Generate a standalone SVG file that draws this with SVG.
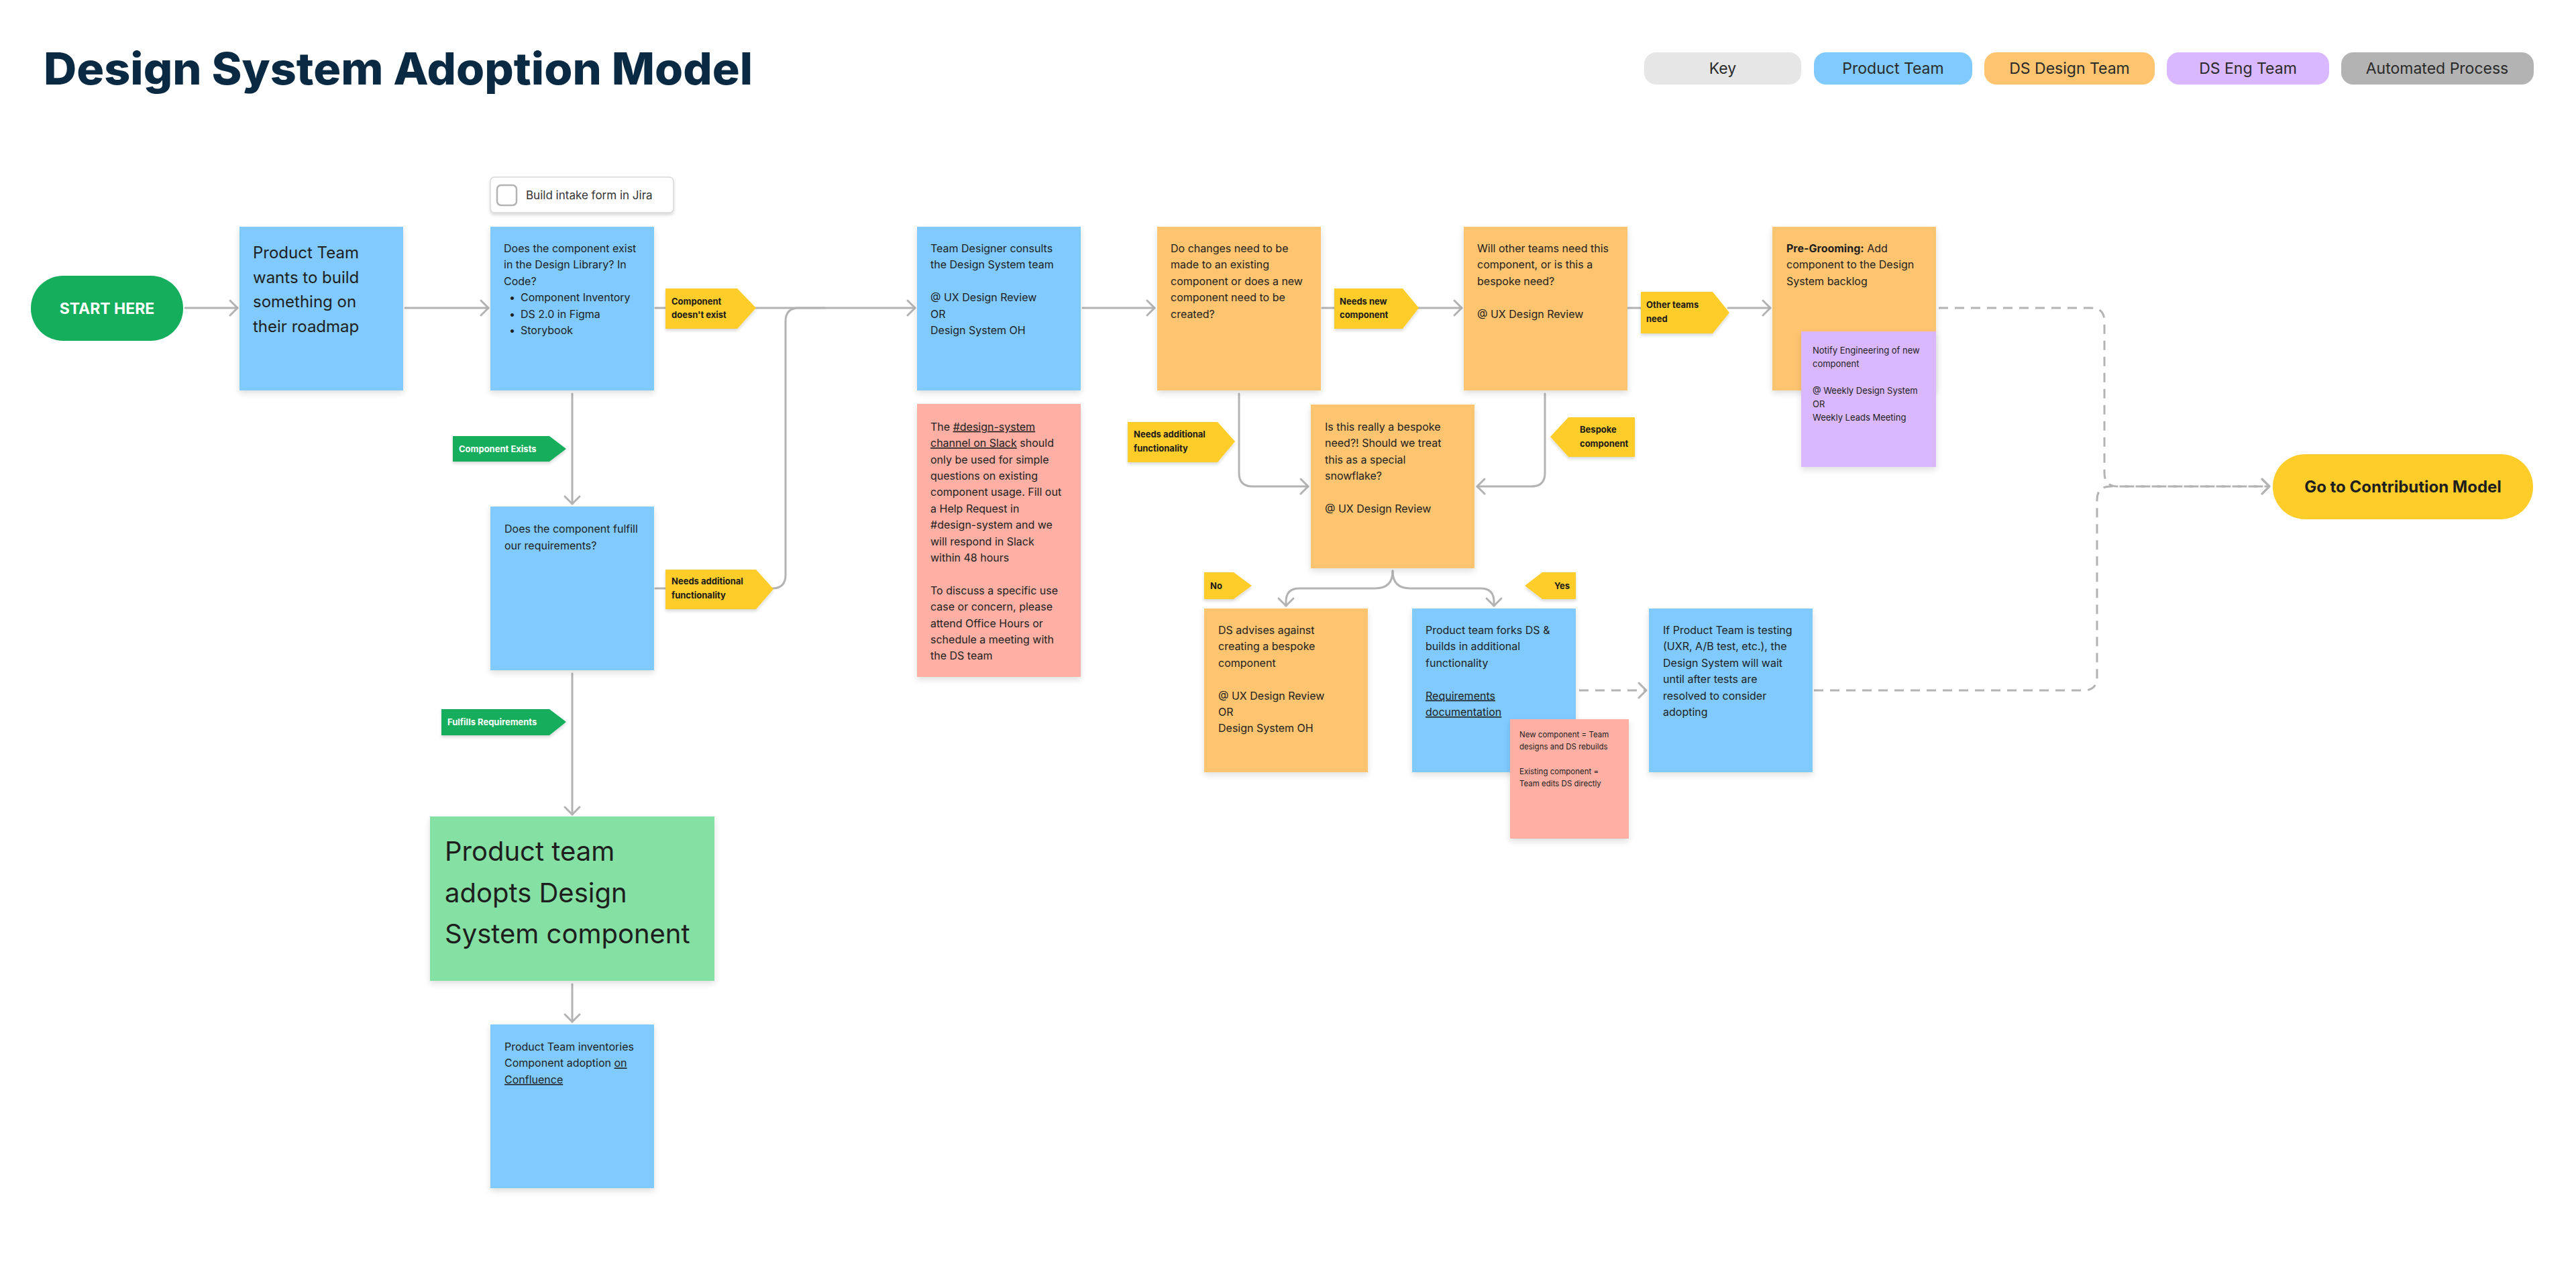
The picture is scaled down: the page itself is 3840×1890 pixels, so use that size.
<svg xmlns="http://www.w3.org/2000/svg" width="3840" height="1890" viewBox="0 0 3840 1890">
<defs>
<style>
text{font-family:Inter,"Noto Sans","Liberation Sans",sans-serif;fill:#1e1e1e}
.t16{font-size:16px}
.t13{font-size:13px}
.t11{font-size:11.5px}
.lb{font-size:13px;font-weight:700;fill:#1a1a1a}
.lbw{font-size:13px;font-weight:700;fill:#ffffff}
.leg{font-size:23px;text-anchor:middle;fill:#2a2a2a}
.blue{fill:#80caff}.orange{fill:#ffc470}.pink{fill:#ffafa3}.purple{fill:#d9b8ff}.mint{fill:#85e0a3}
.yl{fill:#ffcd29}.gl{fill:#14ae5c}
.con{fill:none;stroke:#b3b3b3;stroke-width:3;stroke-linecap:round;stroke-linejoin:round}
.dash{stroke-dasharray:14 10;stroke-linecap:butt}
u{text-decoration:underline}
</style>
<filter id="sh" x="-10%" y="-10%" width="120%" height="130%"><feDropShadow dx="0" dy="4" stdDeviation="5" flood-color="#000" flood-opacity="0.13"/></filter>
<filter id="lsh" x="-10%" y="-20%" width="120%" height="150%"><feDropShadow dx="0" dy="3" stdDeviation="2" flood-color="#000" flood-opacity="0.15"/></filter>
<marker id="arr" viewBox="-14 -14 16 28" markerWidth="16" markerHeight="28" refX="0" refY="0" orient="auto" markerUnits="userSpaceOnUse" overflow="visible">
<path d="M-11,-11 L0,0 L-11,11" fill="none" stroke="#b3b3b3" stroke-width="3" stroke-linecap="round" stroke-linejoin="round" stroke-dasharray="none"/>
</marker>
</defs>
<rect width="3840" height="1890" fill="#ffffff"/>

<g id="title"><text x="65" y="126" font-size="66" font-weight="800" fill="#0a2a43" style="fill:#0a2a43" textLength="1057" lengthAdjust="spacingAndGlyphs">Design System Adoption Model</text></g>

<g id="legend">
<rect x="2451" y="78" width="234" height="48" rx="18" fill="#e6e6e6"/><text class="leg" x="2568" y="110">Key</text>
<rect x="2704" y="78" width="236" height="48" rx="18" class="blue"/><text class="leg" x="2822" y="110">Product Team</text>
<rect x="2958" y="78" width="254" height="48" rx="18" class="orange"/><text class="leg" x="3085" y="110">DS Design Team</text>
<rect x="3230" y="78" width="242" height="48" rx="18" class="purple"/><text class="leg" x="3351" y="110">DS Eng Team</text>
<rect x="3490" y="78" width="287" height="48" rx="18" fill="#b3b3b3"/><text class="leg" x="3633" y="110">Automated Process</text>
</g>

<g id="connectors">
<path class="con" d="M276,459 H354" marker-end="url(#arr)"/>
<path class="con" d="M604,459 H728" marker-end="url(#arr)"/>
<path class="con" d="M977,459 H994"/>
<path class="con" d="M1125,459 H1364" marker-end="url(#arr)"/>
<path class="con" d="M853,587 V751" marker-end="url(#arr)"/>
<path class="con" d="M977,877 H994"/>
<path class="con" d="M1151,877 Q1171,877 1171,857 V479 Q1171,459 1191,459 H1230"/>
<path class="con" d="M853,1004 V1214" marker-end="url(#arr)"/>
<path class="con" d="M853,1467 V1523" marker-end="url(#arr)"/>
<path class="con" d="M1614,459 H1721" marker-end="url(#arr)"/>
<path class="con" d="M1971,459 H1990"/>
<path class="con" d="M2113,459 H2179" marker-end="url(#arr)"/>
<path class="con" d="M2427,459 H2447"/>
<path class="con" d="M2576,459 H2639" marker-end="url(#arr)"/>
<path class="con" d="M1847,587 V705 Q1847,725 1867,725 H1950" marker-end="url(#arr)"/>
<path class="con" d="M2303,587 V705 Q2303,725 2283,725 H2202" marker-end="url(#arr)"/>
<path class="con" d="M2076,851 C2076,870 2066,877 2050,877 H1937 Q1917,877 1917,897 V903" marker-end="url(#arr)"/>
<path class="con" d="M2076,851 C2076,870 2086,877 2102,877 H2207 Q2227,877 2227,897 V903" marker-end="url(#arr)"/>
<path class="con dash" d="M2354,1029 H2454" marker-end="url(#arr)"/>
<path class="con dash" d="M2890,459 H3117 Q3137,459 3137,479 V705 Q3137,725 3157,725 H3383" marker-end="url(#arr)"/>
<path class="con dash" d="M2704,1029 H3106 Q3126,1029 3126,1009 V745 Q3126,725 3146,725 H3383" marker-end="url(#arr)"/>
</g>

<g id="start">
<rect x="46" y="411" width="227" height="97" rx="48" class="gl"/>
<text x="159.5" y="468" font-size="23" font-weight="700" text-anchor="middle" style="fill:#ffffff">START HERE</text>
</g>

<g id="product-team-wants">
<rect x="357" y="338" width="244" height="244" class="blue" filter="url(#sh)"/>
<text x="377" font-size="24"><tspan x="377" y="385">Product Team</tspan><tspan x="377" y="421.7">wants to build</tspan><tspan x="377" y="458.3">something on</tspan><tspan x="377" y="495">their roadmap</tspan></text>
</g>

<g id="intake-form">
<rect x="731" y="264" width="273" height="53" rx="6" fill="#ffffff" stroke="#d9d9d9" stroke-width="1.5" filter="url(#lsh)"/>
<rect x="741" y="276" width="29" height="30" rx="6" fill="#ffffff" stroke="#b3b3b3" stroke-width="2.5"/>
<text x="784" y="297" font-size="17" style="fill:#333333">Build intake form in Jira</text>
</g>

<g id="component-exist-q">
<rect x="731" y="338" width="244" height="244" class="blue" filter="url(#sh)"/>
<text class="t16"><tspan x="751" y="376">Does the component exist</tspan><tspan x="751" y="400.4">in the Design Library? In</tspan><tspan x="751" y="424.8">Code?</tspan><tspan x="759" y="449.2">•</tspan><tspan x="776" y="449.2">Component Inventory</tspan><tspan x="759" y="473.6">•</tspan><tspan x="776" y="473.6">DS 2.0 in Figma</tspan><tspan x="759" y="498">•</tspan><tspan x="776" y="498">Storybook</tspan></text>
</g>

<g id="label-doesnt-exist">
<path d="M992,430 H1099 L1127,459 L1099,490 H992 Z" class="yl" filter="url(#lsh)"/>
<text class="lb"><tspan x="1001" y="454">Component</tspan><tspan x="1001" y="474">doesn't exist</tspan></text>
</g>

<g id="label-component-exists">
<path d="M675,650 H819 L844,669 L819,688 H675 Z" class="gl" filter="url(#lsh)"/>
<text class="lbw" x="684" y="674">Component Exists</text>
</g>

<g id="fulfill-q">
<rect x="731" y="755" width="244" height="244" class="blue" filter="url(#sh)"/>
<text class="t16"><tspan x="752" y="794.4">Does the component fulfill</tspan><tspan x="752" y="818.8">our requirements?</tspan></text>
</g>

<g id="label-needs-additional-1">
<path d="M992,849 H1127 L1153,878 L1127,908 H992 Z" class="yl" filter="url(#lsh)"/>
<text class="lb"><tspan x="1001" y="871">Needs additional</tspan><tspan x="1001" y="891.5">functionality</tspan></text>
</g>

<g id="label-fulfills">
<path d="M658,1057 H819 L844,1076 L819,1096 H658 Z" class="gl" filter="url(#lsh)"/>
<text class="lbw" x="667" y="1081">Fulfills Requirements</text>
</g>

<g id="adopts">
<rect x="641" y="1217" width="424" height="245" class="mint" filter="url(#sh)"/>
<text font-size="40"><tspan x="663" y="1283">Product team</tspan><tspan x="663" y="1344.5">adopts Design</tspan><tspan x="663" y="1406">System component</tspan></text>
</g>

<g id="inventories">
<rect x="731" y="1527" width="244" height="244" class="blue" filter="url(#sh)"/>
<text class="t16"><tspan x="752" y="1566">Product Team inventories</tspan><tspan x="752" y="1590.4">Component adoption <tspan text-decoration="underline">on</tspan></tspan><tspan x="752" y="1614.8" text-decoration="underline">Confluence</tspan></text>
</g>

<g id="team-designer">
<rect x="1367" y="338" width="244" height="244" class="blue" filter="url(#sh)"/>
<text class="t16"><tspan x="1387" y="376">Team Designer consults</tspan><tspan x="1387" y="400.4">the Design System team</tspan><tspan x="1387" y="449.2">@ UX Design Review</tspan><tspan x="1387" y="473.6">OR</tspan><tspan x="1387" y="498">Design System OH</tspan></text>
</g>

<g id="slack-note">
<rect x="1367" y="602" width="244" height="407" class="pink" filter="url(#sh)"/>
<text class="t16"><tspan x="1387" y="641.7">The <tspan text-decoration="underline">#design-system</tspan></tspan><tspan x="1387" y="666.1"><tspan text-decoration="underline">channel on Slack</tspan> should</tspan><tspan x="1387" y="690.5">only be used for simple</tspan><tspan x="1387" y="714.9">questions on existing</tspan><tspan x="1387" y="739.3">component usage. Fill out</tspan><tspan x="1387" y="763.7">a Help Request in</tspan><tspan x="1387" y="788.1">#design-system and we</tspan><tspan x="1387" y="812.5">will respond in Slack</tspan><tspan x="1387" y="836.9">within 48 hours</tspan><tspan x="1387" y="885.7">To discuss a specific use</tspan><tspan x="1387" y="910.1">case or concern, please</tspan><tspan x="1387" y="934.5">attend Office Hours or</tspan><tspan x="1387" y="958.9">schedule a meeting with</tspan><tspan x="1387" y="983.3">the DS team</tspan></text>
</g>

<g id="do-changes">
<rect x="1725" y="338" width="244" height="244" class="orange" filter="url(#sh)"/>
<text class="t16"><tspan x="1745" y="376">Do changes need to be</tspan><tspan x="1745" y="400.4">made to an existing</tspan><tspan x="1745" y="424.8">component or does a new</tspan><tspan x="1745" y="449.2">component need to be</tspan><tspan x="1745" y="473.6">created?</tspan></text>
</g>

<g id="label-needs-new">
<path d="M1989,430 H2091 L2115,459 L2091,490 H1989 Z" class="yl" filter="url(#lsh)"/>
<text class="lb"><tspan x="1997" y="454">Needs new</tspan><tspan x="1997" y="474">component</tspan></text>
</g>

<g id="label-needs-additional-2">
<path d="M1681,629 H1815 L1841,658 L1815,689 H1681 Z" class="yl" filter="url(#lsh)"/>
<text class="lb"><tspan x="1690" y="652">Needs additional</tspan><tspan x="1690" y="672.5">functionality</tspan></text>
</g>

<g id="other-teams-q">
<rect x="2182" y="338" width="244" height="244" class="orange" filter="url(#sh)"/>
<text class="t16"><tspan x="2202" y="376">Will other teams need this</tspan><tspan x="2202" y="400.4">component, or is this a</tspan><tspan x="2202" y="424.8">bespoke need?</tspan><tspan x="2202" y="473.6">@ UX Design Review</tspan></text>
</g>

<g id="label-other-teams">
<path d="M2446,435 H2553 L2578,466 L2553,497 H2446 Z" class="yl" filter="url(#lsh)"/>
<text class="lb"><tspan x="2454" y="459">Other teams</tspan><tspan x="2454" y="479.5">need</tspan></text>
</g>

<g id="bespoke-q">
<rect x="1954" y="603" width="244" height="244" class="orange" filter="url(#sh)"/>
<text class="t16"><tspan x="1975" y="641.7">Is this really a bespoke</tspan><tspan x="1975" y="666.1">need?! Should we treat</tspan><tspan x="1975" y="690.5">this as a special</tspan><tspan x="1975" y="714.9">snowflake?</tspan><tspan x="1975" y="763.7">@ UX Design Review</tspan></text>
</g>

<g id="label-bespoke">
<path d="M2437,622 H2338 L2311,651 L2338,681 H2437 Z" class="yl" filter="url(#lsh)"/>
<text class="lb"><tspan x="2355" y="645">Bespoke</tspan><tspan x="2355" y="665.5">component</tspan></text>
</g>

<g id="label-no">
<path d="M1795,853 H1839 L1866,873 L1839,893 H1795 Z" class="yl" filter="url(#lsh)"/>
<text class="lb" x="1804" y="877.5">No</text>
</g>

<g id="label-yes">
<path d="M2349,853 H2299 L2273,873 L2299,893 H2349 Z" class="yl" filter="url(#lsh)"/>
<text class="lb" x="2317" y="877.5">Yes</text>
</g>

<g id="ds-advises">
<rect x="1795" y="907" width="244" height="244" class="orange" filter="url(#sh)"/>
<text class="t16"><tspan x="1816" y="945">DS advises against</tspan><tspan x="1816" y="969.4">creating a bespoke</tspan><tspan x="1816" y="993.8">component</tspan><tspan x="1816" y="1042.6">@ UX Design Review</tspan><tspan x="1816" y="1067">OR</tspan><tspan x="1816" y="1091.4">Design System OH</tspan></text>
</g>

<g id="forks">
<rect x="2105" y="907" width="244" height="244" class="blue" filter="url(#sh)"/>
<text class="t16"><tspan x="2125" y="945">Product team forks DS &amp;</tspan><tspan x="2125" y="969.4">builds in additional</tspan><tspan x="2125" y="993.8">functionality</tspan><tspan x="2125" y="1042.6" text-decoration="underline">Requirements</tspan><tspan x="2125" y="1067" text-decoration="underline">documentation</tspan></text>
</g>

<g id="fork-note">
<rect x="2251" y="1072" width="177" height="178" class="pink" filter="url(#sh)"/>
<text class="t11"><tspan x="2265" y="1099">New component = Team</tspan><tspan x="2265" y="1117.3">designs and DS rebuilds</tspan><tspan x="2265" y="1154">Existing component =</tspan><tspan x="2265" y="1172.3">Team edits DS directly</tspan></text>
</g>

<g id="if-testing">
<rect x="2458" y="907" width="244" height="244" class="blue" filter="url(#sh)"/>
<text class="t16"><tspan x="2479" y="945">If Product Team is testing</tspan><tspan x="2479" y="969.4">(UXR, A/B test, etc.), the</tspan><tspan x="2479" y="993.8">Design System will wait</tspan><tspan x="2479" y="1018.2">until after tests are</tspan><tspan x="2479" y="1042.6">resolved to consider</tspan><tspan x="2479" y="1067">adopting</tspan></text>
</g>

<g id="pre-grooming">
<rect x="2642" y="338" width="244" height="244" class="orange" filter="url(#sh)"/>
<text class="t16"><tspan x="2663" y="376"><tspan font-weight="700">Pre-Grooming:</tspan> Add</tspan><tspan x="2663" y="400.4">component to the Design</tspan><tspan x="2663" y="424.8">System backlog</tspan></text>
</g>

<g id="notify-eng">
<rect x="2685" y="494" width="201" height="202" class="purple" filter="url(#sh)"/>
<text class="t13"><tspan x="2702" y="526.7">Notify Engineering of new</tspan><tspan x="2702" y="546.7">component</tspan><tspan x="2702" y="586.7">@ Weekly Design System</tspan><tspan x="2702" y="606.7">OR</tspan><tspan x="2702" y="626.7">Weekly Leads Meeting</tspan></text>
</g>

<g id="contribution-model">
<rect x="3388" y="677" width="388" height="97" rx="48" class="yl"/>
<text x="3582" y="734" font-size="24" font-weight="700" text-anchor="middle">Go to Contribution Model</text>
</g>
</svg>
